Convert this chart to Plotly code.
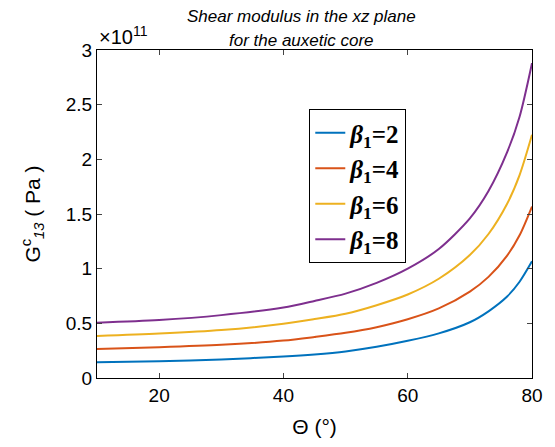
import plotly.graph_objects as go

theta = [10, 20, 30, 40, 45, 50, 55, 60, 65, 70, 73, 76, 78, 80]
g_beta2 = [0.143, 0.153, 0.170, 0.197, 0.216, 0.243, 0.285, 0.340, 0.408, 0.510, 0.610, 0.745, 0.880, 1.067]
g_beta4 = [0.265, 0.281, 0.303, 0.342, 0.375, 0.413, 0.465, 0.537, 0.636, 0.790, 0.925, 1.120, 1.305, 1.568]
g_beta6 = [0.384, 0.406, 0.438, 0.496, 0.539, 0.588, 0.666, 0.764, 0.908, 1.125, 1.317, 1.594, 1.856, 2.225]
g_beta8 = [0.506, 0.530, 0.575, 0.645, 0.705, 0.772, 0.870, 1.000, 1.180, 1.460, 1.710, 2.065, 2.390, 2.880]
series_names = ["<b><i>β</i><sub>1</sub>=2</b>", "<b><i>β</i><sub>1</sub>=4</b>",
                "<b><i>β</i><sub>1</sub>=6</b>", "<b><i>β</i><sub>1</sub>=8</b>"]
colors = ["#0072BD", "#D95319", "#EDB120", "#7E2F8E"]
y_ticks = [0, 0.5, 1, 1.5, 2, 2.5, 3]
y_ticktext = ["0", "0.5", "1", "1.5", "2", "2.5", "3"]
x_ticks = [20, 40, 60, 80]

SANS = "Liberation Sans, Arial, sans-serif"
fig = go.Figure()
for name, vals, c in zip(series_names, [g_beta2, g_beta4, g_beta6, g_beta8], colors):
    fig.add_trace(go.Scatter(x=theta, y=vals, mode="lines", name=name,
                             line=dict(color=c, width=2, shape="spline", smoothing=0.8)))

axis_font = dict(family=SANS, size=19, color="#000")
fig.update_layout(
    width=555, height=447,
    margin=dict(l=97, r=18, t=50, b=69),
    paper_bgcolor="white", plot_bgcolor="white",
    font=dict(family=SANS, color="#000"),
    xaxis=dict(range=[10, 80], tickvals=x_ticks, ticks="inside", ticklen=5,
               showline=True, linecolor="#000", linewidth=1, mirror="ticks",
               showgrid=False, zeroline=False, tickfont=axis_font,
               title=dict(text="Θ (°)", font=dict(size=21, family=SANS), standoff=14)),
    yaxis=dict(range=[0, 3], tickvals=y_ticks, ticktext=y_ticktext, ticks="inside", ticklen=5,
               showline=True, linecolor="#000", linewidth=1, mirror="ticks",
               showgrid=False, zeroline=False, tickfont=axis_font,
               title=dict(text="G<sup>c</sup><sub><i>13</i></sub> ( Pa )",
                          font=dict(size=21, family=SANS), standoff=19)),
    legend=dict(x=0.488, y=0.82, xanchor="left", yanchor="top",
                bgcolor="white", bordercolor="#000", borderwidth=1,
                font=dict(family="Liberation Serif, Times New Roman, serif", size=25, color="#000"),
                tracegroupgap=0),
    showlegend=True,
)
fig.add_annotation(text="<i>Shear modulus in the xz plane</i>", xref="paper", yref="paper",
                   x=0.47, y=1, yshift=34, xanchor="center", yanchor="middle", showarrow=False,
                   font=dict(size=17, family=SANS))
fig.add_annotation(text="<i>for the auxetic core</i>", xref="paper", yref="paper",
                   x=0.47, y=1, yshift=10, xanchor="center", yanchor="middle", showarrow=False,
                   font=dict(size=17, family=SANS))
fig.add_annotation(text="×10<sup>11</sup>", xref="paper", yref="paper",
                   x=0, y=1, yshift=0, xanchor="left", yanchor="bottom", showarrow=False,
                   font=dict(size=20, family=SANS))
fig.write_html("out.html", config={"displayModeBar": False},
               post_script="document.body.style.margin='0';")
